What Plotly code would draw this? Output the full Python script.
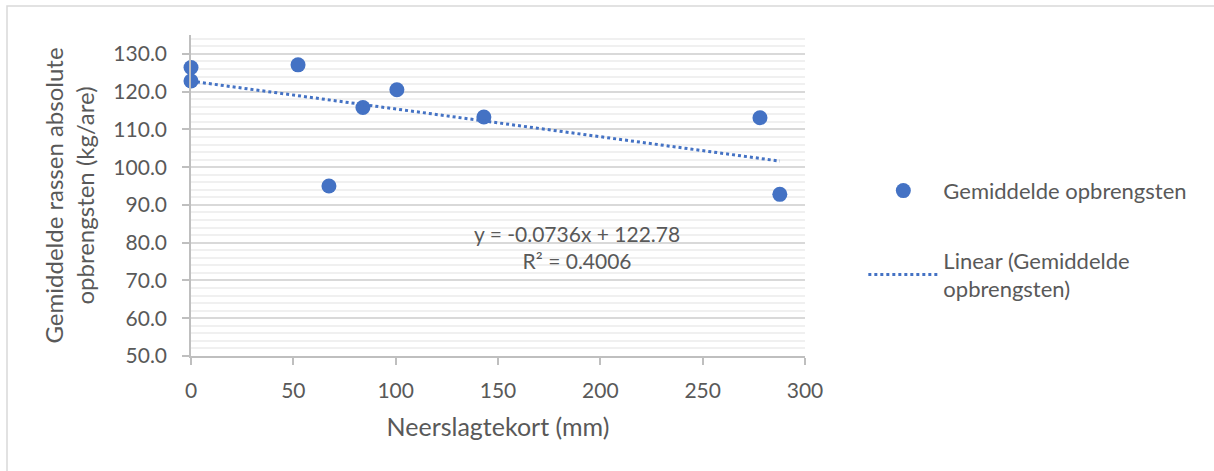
import plotly.graph_objects as go

# Data
neerslagtekort = [0, 0, 52.3, 67.4, 84.0, 100.6, 143.1, 278.0, 287.7]
opbrengst = [126.4, 122.8, 127.1, 95.0, 115.8, 120.5, 113.3, 113.1, 92.8]
slope = -0.0736
intercept = 122.78
r2 = 0.4006
x_ticks = [0, 50, 100, 150, 200, 250, 300]
y_ticks = [50, 60, 70, 80, 90, 100, 110, 120, 130]

BLUE = "#4472C4"
TXT = "#595959"
FONT = "Lato"

W, H = 1214, 471
L, R, T, B = 191, 409, 35, 115

xmin, xmax = min(neerslagtekort), max(neerslagtekort)
trend_x = [xmin, xmax]
trend_y = [slope * v + intercept for v in trend_x]

fig = go.Figure()
fig.add_trace(go.Scatter(
    x=neerslagtekort, y=opbrengst, mode="markers",
    name="Gemiddelde opbrengsten",
    marker=dict(color=BLUE, size=15),
    legendgroup="a", cliponaxis=False,
))
fig.add_trace(go.Scatter(
    x=trend_x, y=trend_y, mode="lines",
    name="Linear (Gemiddelde<br>opbrengsten)",
    line=dict(color=BLUE, width=3, dash="dot"),
    legendgroup="b", cliponaxis=False,
))

fig.add_annotation(
    x=188.6, y=78.9, xref="x", yref="y",
    text=f"y = {slope}x + {intercept}<br>R² = {r2}",
    showarrow=False, font=dict(family=FONT, size=21, color=TXT),
    align="center",
)

pw = W - L - R
ph = H - T - B
# chart border (Excel chart area)
fig.add_shape(type="rect", xref="paper", yref="paper",
              x0=(7 - L) / pw, x1=(W + 30 - L) / pw,
              y0=-(H + 30 - T - ph) / ph, y1=(T - 6) / ph + 1,
              line=dict(color="#d9d9d9", width=1.5), layer="below")

fig.update_layout(
    width=W, height=H,
    margin=dict(l=L, r=R, t=T, b=B),
    paper_bgcolor="white", plot_bgcolor="white",
    font=dict(family=FONT, size=20, color=TXT),
    showlegend=True,
    legend=dict(x=1.095, y=0.58, xanchor="left", yanchor="top",
                itemwidth=70, tracegroupgap=38,
                font=dict(family=FONT, size=22, color=TXT),
                bgcolor="rgba(0,0,0,0)"),
    xaxis=dict(
        range=[0, 300], tickvals=x_ticks, ticktext=[str(v) for v in x_ticks],
        showgrid=False, zeroline=False,
        showline=True, linecolor="#bfbfbf", linewidth=1.5,
        ticks="outside", ticklen=7, tickcolor="#bfbfbf", tickwidth=1.5,
        ticklabelstandoff=8,
        tickfont=dict(family=FONT, size=21, color=TXT),
        title=dict(text="Neerslagtekort (mm)", standoff=18,
                   font=dict(family=FONT, size=25, color=TXT)),
    ),
    yaxis=dict(
        range=[50, 135], tickvals=y_ticks, ticktext=[f"{v:.1f}" for v in y_ticks],
        showgrid=True, gridcolor="#d9d9d9", gridwidth=1.5, zeroline=False,
        showline=True, linecolor="#bfbfbf", linewidth=1.5,
        ticks="outside", ticklen=7, tickcolor="#bfbfbf", tickwidth=1.5,
        ticklabelstandoff=11,
        tickfont=dict(family=FONT, size=21, color=TXT),
        minor=dict(dtick=2, tick0=50, showgrid=True, gridcolor="#f0f0f0", gridwidth=1.5, ticks=""),
        title=dict(text="Gemiddelde rassen absolute<br>opbrengsten (kg/are)", standoff=12,
                   font=dict(family=FONT, size=24, color=TXT)),
    ),
)

fig.write_html("out.html")
